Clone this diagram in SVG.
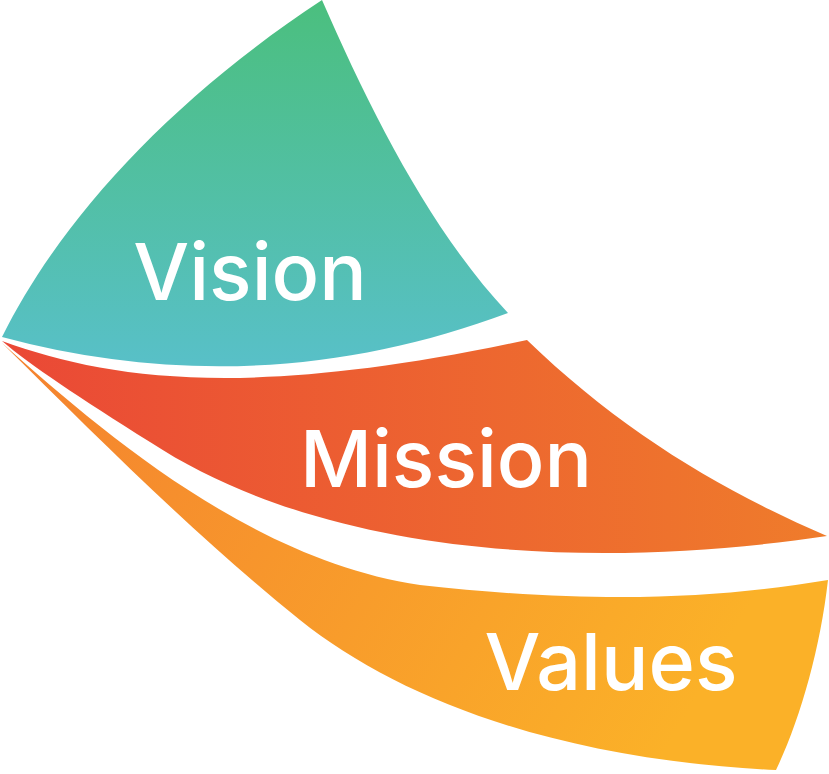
<svg xmlns="http://www.w3.org/2000/svg" width="829" height="774" viewBox="0 0 829 774">
<defs>
<linearGradient id="gV" x1="0" y1="0" x2="0" y2="1"><stop offset="0" stop-color="#4bbf7e"/><stop offset="1" stop-color="#58c0c8"/></linearGradient>
<linearGradient id="gM" x1="0" y1="0" x2="1" y2="0"><stop offset="0" stop-color="#ea4836"/><stop offset="1" stop-color="#ef7c2b"/></linearGradient>
<linearGradient id="gL" x1="0" y1="0" x2="1" y2="0.3"><stop offset="0" stop-color="#f4812f"/><stop offset="1" stop-color="#fbb128"/></linearGradient>
<style>.t{font-family:Inter,"Noto Sans",sans-serif;font-size:79px;fill:#fff;font-weight:500}</style>
</defs>
<g id="vision">
<path d="M2,337 C60,220 170,100 322,0 C370,110 430,230 508,313 C350,372 180,385 2,337 Z" fill="url(#gV)"/>
<text class="t" x="250" y="300" text-anchor="middle">Vision</text>
</g>
<g id="mission">
<path d="M2,341 C110,380 250,400 527,340 C620,430 720,490 827,536 C600,570 330,560 150,442 C80,398 30,365 2,341 Z" fill="url(#gM)"/>
<text class="t" x="446" y="487" text-anchor="middle">Mission</text>
</g>
<g id="values">
<path d="M2,343 C100,430 250,560 420,585 C600,605 720,598 828,580 C820,650 800,720 776,770 C560,760 400,700 300,620 C200,540 100,440 2,343 Z" fill="url(#gL)"/>
<text class="t" x="611" y="690" text-anchor="middle">Values</text>
</g>
<g id="connectors"/>
</svg>
